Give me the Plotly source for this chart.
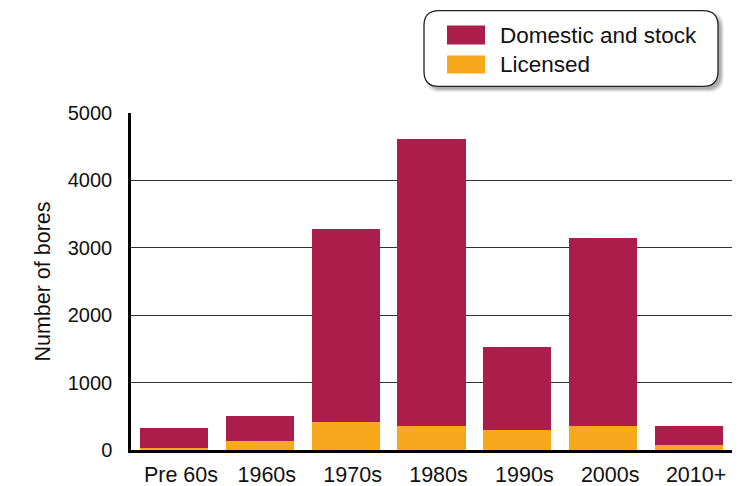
import plotly.graph_objects as go

categories = ["Pre 60s", "1960s", "1970s", "1980s", "1990s", "2000s", "2010+"]
licensed = [33, 130, 422, 363, 304, 363, 67]
domestic_stock = [296, 381, 2859, 4248, 1229, 2785, 296]
series_names = ["Domestic and stock", "Licensed"]
y_ticks = [0, 1000, 2000, 3000, 4000, 5000]

C_DOM = "#AB1E4C"
C_LIC = "#F7A81D"
FONT = "Liberation Sans, Arial, sans-serif"

OFF = 8  # page body margin
W, H = 742 - OFF, 486 - OFF
# plot area in page pixels: x 131..732, y 112.7..450.5
ML = 131 - OFF
MR = W - (732 - OFF)
MT = 112.7 - OFF
MB = H - (450.5 - OFF)
PW, PH = W - ML - MR, H - MT - MB

def px(x):
    return (x - OFF - ML) / PW

def py(y):
    return (H - MB - (y - OFF)) / PH

fig = go.Figure()
fig.add_trace(go.Bar(x=categories, y=licensed, name=series_names[1],
                     marker=dict(color=C_LIC, line=dict(width=0)), showlegend=False))
fig.add_trace(go.Bar(x=categories, y=domestic_stock, name=series_names[0],
                     marker=dict(color=C_DOM, line=dict(width=0)), showlegend=False))

shapes = []
annotations = []

def rounded(x0, y0, x1, y1, r):
    return (f"M {px(x0+r)} {py(y0)} L {px(x1-r)} {py(y0)} "
            f"Q {px(x1)} {py(y0)} {px(x1)} {py(y0+r)} "
            f"L {px(x1)} {py(y1-r)} Q {px(x1)} {py(y1)} {px(x1-r)} {py(y1)} "
            f"L {px(x0+r)} {py(y1)} Q {px(x0)} {py(y1)} {px(x0)} {py(y1-r)} "
            f"L {px(x0)} {py(y0+r)} Q {px(x0)} {py(y0)} {px(x0+r)} {py(y0)} Z")

# soft shadow
for i, op in enumerate([0.06, 0.08, 0.10, 0.12]):
    d = 6 - i
    shapes.append(dict(type="path", xref="paper", yref="paper",
                       path=rounded(424 + 1 + i, 10 + 1 + i, 718 + d, 86 + d, 15),
                       fillcolor=f"rgba(0,0,0,{op})", line=dict(width=0), layer="above"))
shapes.append(dict(type="path", xref="paper", yref="paper",
                   path=rounded(424, 10, 718, 86, 15),
                   fillcolor="white", line=dict(color="#222222", width=1.3), layer="above"))

legend_rows = [(series_names[0], C_DOM, 25, 44), (series_names[1], C_LIC, 55, 73)]
for name, col, y0, y1 in legend_rows:
    shapes.append(dict(type="rect", xref="paper", yref="paper",
                       x0=px(447), x1=px(485), y0=py(y1), y1=py(y0),
                       fillcolor=col, line=dict(width=0), layer="above"))
    annotations.append(dict(text=name, xref="paper", yref="paper",
                            x=px(498), y=py((y0 + y1) / 2 + 0.5), xanchor="left", yanchor="middle",
                            showarrow=False, font=dict(family=FONT, size=22.5, color="#111111")))

fig.update_layout(
    width=W, height=H,
    margin=dict(l=ML, r=MR, t=MT, b=MB, autoexpand=False),
    paper_bgcolor="white", plot_bgcolor="white",
    barmode="stack", bargap=0.205,
    font=dict(family=FONT, size=20, color="#111111"),
    shapes=shapes, annotations=annotations,
    showlegend=False,
    xaxis=dict(showline=True, linecolor="black", linewidth=2.5, ticks="outside",
               ticklen=3, tickcolor="rgba(0,0,0,0)", ticklabelshift=7,
               tickfont=dict(size=21.5), showgrid=False, fixedrange=True,
               range=[-0.5, 6.5]),
    yaxis=dict(range=[0, 5000], tickvals=y_ticks, showline=True, linecolor="black",
               linewidth=2.5, showgrid=True, gridcolor="#333333", gridwidth=1,
               zeroline=False, ticks="outside", ticklen=12, tickcolor="rgba(0,0,0,0)",
               tickfont=dict(size=20),
               title=dict(text="Number of bores", font=dict(size=21.5), standoff=12)),
)

fig.write_html("out.html")
